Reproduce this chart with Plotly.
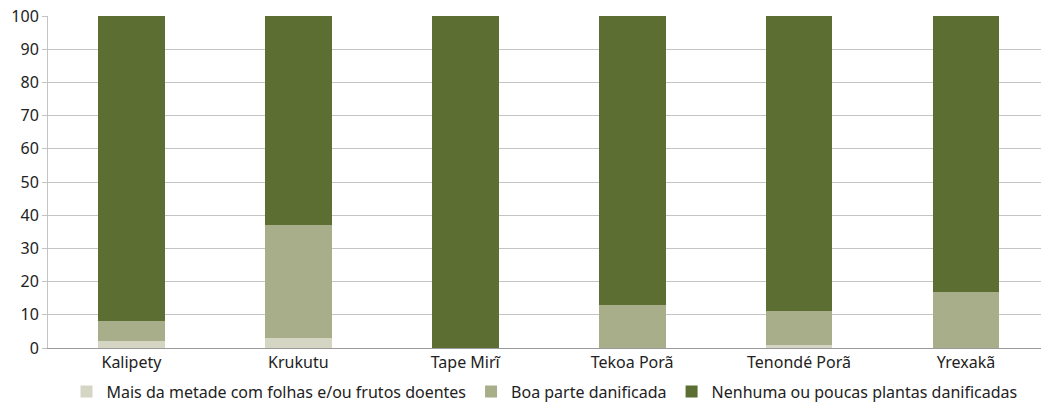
import plotly.graph_objects as go

aldeias = ["Kalipety", "Krukutu", "Tape Mirĩ", "Tekoa Porã", "Tenondé Porã", "Yrexakã"]
metade_doentes = [2, 3, 0, 0, 1, 0]
boa_parte = [6, 34, 0, 13, 10, 17]
nenhuma_poucas = [92, 63, 100, 87, 89, 83]

series = [
    ("Mais da metade com folhas e/ou frutos doentes", metade_doentes, "#d4d6c3"),
    ("Boa parte danificada", boa_parte, "#a9ae8a"),
    ("Nenhuma ou poucas plantas danificadas", nenhuma_poucas, "#5c6e32"),
]

fig = go.Figure()
for nome, vals, cor in series:
    fig.add_trace(go.Bar(x=aldeias, y=vals, name=nome, marker=dict(color=cor, line=dict(width=0))))

fig.update_layout(
    barmode="stack",
    bargap=0.6,
    width=1041, height=404,
    margin=dict(l=48, r=0, t=16, b=56, autoexpand=False),
    plot_bgcolor="white", paper_bgcolor="white",
    font=dict(family="Noto Sans", size=16, color="#222"),
    legend=dict(orientation="h", x=0.5, xanchor="center", y=-0.08, yanchor="top",
                font=dict(size=16), itemwidth=30, traceorder="normal"),
    showlegend=True,
)
fig.update_xaxes(range=[-0.5, 5.45], showline=True, linecolor="#9a9a9a", linewidth=1,
                 ticks="", showgrid=False, automargin=False)
fig.update_yaxes(range=[0, 100], dtick=10, showgrid=True, gridcolor="#c4c4c4", gridwidth=1,
                 showline=True, linecolor="#c4c4c4", ticks="outside", ticklen=5,
                 tickcolor="#c4c4c4", zeroline=False, automargin=False)

# tira a margem padrão do body para o gráfico começar no canto
fig.write_html("out.html", config={"displayModeBar": False},
               post_script="document.body.style.margin='0';")
